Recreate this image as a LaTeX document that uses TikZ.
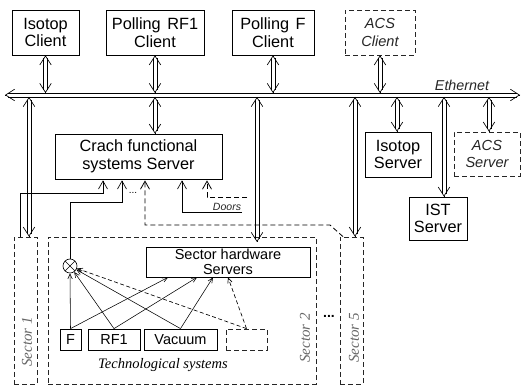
\documentclass[tikz,border=0pt]{standalone}
\usepackage{fontspec}
\setmainfont{Liberation Sans}
\newfontfamily\serifit{Liberation Serif}
\usetikzlibrary{arrows.meta,calc}
\newcommand\dblar[2]{%
  \draw[shaft] ($#1!1.9pt!90:#2$) -- ($#2!1.9pt!-90:#1$);
  \draw[shaft] ($#1!1.9pt!-90:#2$) -- ($#2!1.9pt!90:#1$);
  \draw[vhead] ($#1!0.3pt!#2$) -- #1;
  \draw[vhead] ($#2!0.3pt!#1$) -- #2;
}
\begin{document}
\begin{tikzpicture}[x=1pt,y=-1pt,
  box/.style={draw, line width=0.75pt, align=center, font=\fontsize{16.3}{17.5}\selectfont, inner sep=0pt},
  tbox/.style={box, font=\fontsize{14.5}{15.5}\selectfont},
  dashln/.style={draw=black, line width=0.8pt, dash pattern=on 5pt off 3pt},
  dbox/.style={box, dashln, draw=black!85, font=\fontsize{14.6}{17.5}\selectfont\itshape, text=black!85},
  sect/.style={draw=black!85, line width=0.75pt, dash pattern=on 5pt off 3pt, inner sep=0pt},
  seclab/.style={font=\serifit\itshape\fontsize{15}{15}\selectfont, text=black!60, rotate=90},
  shaft/.style={line width=0.7pt, shorten <=3pt, shorten >=3pt},
  vhead/.style={line width=0.65pt, -{Straight Barb[length=9pt,width=11.5pt]}},
  sarr/.style={line width=0.65pt, -{Straight Barb[length=8pt,width=9pt]}, shorten >=1pt},
  tarr/.style={line width=0.55pt, -{Straight Barb[length=5pt,width=4.5pt]}},
]
\useasboundingbox (0,0) rectangle (523,385);

% clients
\node[box, minimum width=67pt, minimum height=45pt] (isoc) at (45.5,32.5) {Isotop\\Client};
\node[box, minimum width=98pt, minimum height=45pt] (rf1c) at (155,32.5) {Polling\hspace{0.4em}RF1\\Client};
\node[box, minimum width=82pt, minimum height=45pt] (fc) at (273,32.5) {Polling\hspace{0.4em}F\\Client};
\node[dbox, minimum width=70pt, minimum height=45pt] (acsc) at (380,32.5) {ACS\\Client};

% servers
\node[box, minimum width=167pt, minimum height=45pt] (crach) at (138.5,156.5) {Crach functional\\systems Server};
\node[box, minimum width=66pt, minimum height=45pt] (isos) at (398,154.5) {Isotop\\Server};
\node[dbox, minimum width=66pt, minimum height=44pt] (acss) at (487,154) {ACS\\Server};
\node[box, minimum width=58pt, minimum height=43pt] (ists) at (438,218.5) {IST\\Server};

% sectors
\node[sect, minimum width=23pt, minimum height=147pt] (sec1) at (25.5,310.5) {};
\node[sect, minimum width=268pt, minimum height=147pt] (sec2) at (182,310.5) {};
\node[sect, minimum width=23pt, minimum height=147pt] (sec5) at (351.5,310.5) {};
\node[seclab] (l1) at (27,342) {Sector 1};
\node[seclab] (l2) at (305,338) {Sector 2};
\node[seclab] (l5) at (354,338) {Sector 5};
\node[font=\bfseries\fontsize{14}{14}\selectfont] (dots2) at (329,316) {...};

\node[tbox, minimum width=164pt, minimum height=30pt] (shw) at (228,262) {Sector hardware\\Servers};
\node[tbox, minimum width=21pt, minimum height=21pt] (tf) at (70.5,339.5) {F};
\node[tbox, minimum width=52pt, minimum height=21pt] (trf) at (114,339.5) {RF1};
\node[tbox, minimum width=73pt, minimum height=21pt] (tvac) at (180.5,339.5) {Vacuum};
\node[tbox, dashln, draw=black!85, minimum width=41pt, minimum height=21pt] (tdash) at (246.5,339.5) {};
\node[font=\serifit\itshape\fontsize{14.5}{14.5}\selectfont] (tech) at (163,365) {Technological systems};

\node[circle, draw, line width=0.65pt, minimum size=14pt, inner sep=0pt,
  path picture={\draw[line width=0.65pt] (path picture bounding box.north west) -- (path picture bounding box.south east)
  (path picture bounding box.north east) -- (path picture bounding box.south west);}] (mix) at (70,266) {};

% bus
\coordinate (busL) at (5,95);
\coordinate (busR) at (520,95);
\dblar{(busL)}{(busR)}
\node[font=\fontsize{14.3}{14.3}\selectfont\itshape, text=black!85] (eth) at (462,85) {Ethernet};

% bus taps
\coordinate (t1) at (45.5,93);
\coordinate (t2) at (155,93);
\coordinate (t3) at (273,93);
\coordinate (t4) at (380,93);
\coordinate (u1) at (29,97);
\coordinate (u2) at (155,97);
\coordinate (u3) at (257,97);
\coordinate (u4) at (355,97);
\coordinate (u5) at (397,97);
\coordinate (u6) at (444,97);
\coordinate (u7) at (489,97);
\coordinate (e3) at (257,242);

\dblar{(isoc.south)}{(t1)}
\dblar{(rf1c.south)}{(t2)}
\dblar{(fc.south)}{(t3)}
\dblar{(acsc.south)}{(t4)}
\dblar{(u1)}{(29,0 |- sec1.north)}
\dblar{(u2)}{(155,0 |- crach.north)}
\dblar{(u3)}{(e3)}
\dblar{(u4)}{(355,0 |- sec5.north)}
\dblar{(u5)}{(397,0 |- isos.north)}
\dblar{(u6)}{(444,0 |- ists.north)}
\dblar{(u7)}{(489,0 |- acss.north)}

% inputs of Crach server
\draw[sarr] (20,0 |- sec1.north) -- (20,193) -- (103,193) -- (103,0 |- crach.south);
\draw[sarr] (mix.north) -- (70,202) -- (122,202) -- (122,0 |- crach.south);
\node[font=\fontsize{10}{10}\selectfont] (dots1) at (133,193) {...};
\draw[sarr, dashln] (343,0 |- sec5.north) -- (330,225) -- (145,225) -- (145,0 |- crach.south);
\coordinate (doorsE) at (242,212);
\draw[sarr] (doorsE) -- (182,212) -- (182,0 |- crach.south);
\node[font=\fontsize{10.5}{10.5}\selectfont\itshape, text=black!85] (doors) at (227,206.5) {Doors};
\coordinate (dE) at (247,197);
\draw[sarr, dashln] (dE) -- (207,197) -- (207,0 |- crach.south);

% technological systems
\draw[tarr] (tf.north) -- (mix.south);
\draw[tarr] (tf.north) -- (168,0 |- shw.south);
\draw[tarr] (trf.north) -- (mix);
\draw[tarr] (trf.north) -- (197,0 |- shw.south);
\draw[tarr] (tvac.north) -- (mix);
\draw[tarr] (tvac.north) -- (213,0 |- shw.south);
\draw[tarr, dashln, line width=0.65pt, dash pattern=on 4pt off 2.5pt] (tdash.north) -- (mix);
\draw[tarr, dashln, line width=0.65pt, dash pattern=on 4pt off 2.5pt] (tdash.north) -- (228,0 |- shw.south);
\end{tikzpicture}
\end{document}
